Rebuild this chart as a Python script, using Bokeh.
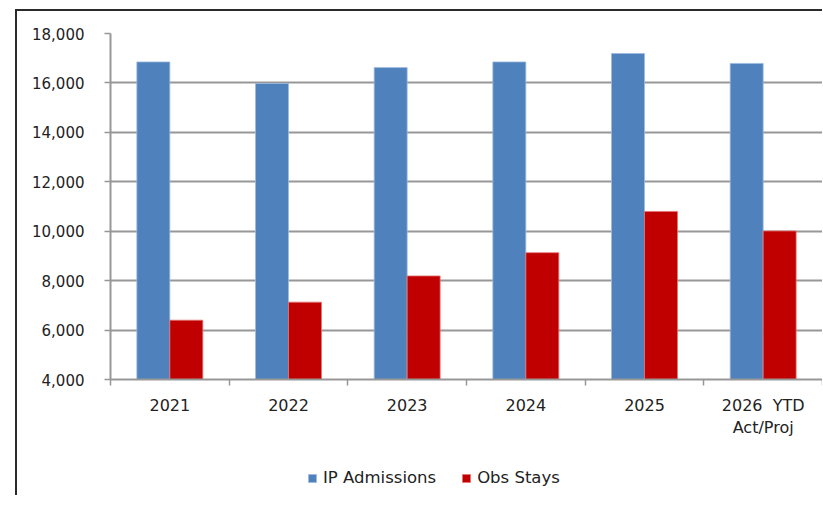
from bokeh.plotting import figure
from bokeh.layouts import column
from bokeh.models import (Range1d, FixedTicker, NumeralTickFormatter, Legend, LegendItem,
                          ColumnDataSource)
from bokeh.transform import dodge
from bokeh.embed import file_html
from bokeh.resources import INLINE

categories = ["2021", "2022", "2023", "2024", "2025", "2026 \u00a0YTD\nAct/Proj"]
ip_admissions = [16850, 15980, 16620, 16850, 17190, 16790]
obs_stays = [6400, 7130, 8190, 9130, 10800, 10010]
y_ticks = [4000, 6000, 8000, 10000, 12000, 14000, 16000, 18000]
series_names = ["IP Admissions", "Obs Stays"]

BLUE = "#4F81BD"
RED = "#C00000"
GRID = "#979797"
TEXT = "#222222"
FONT = "DejaVu Sans"
BLUE_EDGE = "#9dbbe0"
RED_EDGE = "#e57373"

n = len(categories)
centers = [i + 0.5 for i in range(n)]
src = ColumnDataSource(dict(pos=centers, ip=ip_admissions, obs=obs_stays))

p = figure(x_range=Range1d(0, n), y_range=Range1d(y_ticks[0], y_ticks[-1]),
           width=805, height=440, output_backend="svg", toolbar_location=None,
           min_border_left=93, min_border_right=0, min_border_top=22, min_border_bottom=72)
p.outline_line_color = None

bw = 0.278
r1 = p.vbar(x=dodge("pos", -bw / 2), top="ip", bottom=y_ticks[0], width=bw,
            source=src, fill_color=BLUE, line_color=BLUE_EDGE, line_width=0.8)
r2 = p.vbar(x=dodge("pos", bw / 2), top="obs", bottom=y_ticks[0], width=bw,
            source=src, fill_color=RED, line_color=RED_EDGE, line_width=0.8)

# y axis
ya = p.yaxis[0]
ya.ticker = FixedTicker(ticks=y_ticks)
ya.formatter = NumeralTickFormatter(format="0,0")
ya.major_tick_out = 6
ya.major_tick_in = 0
ya.minor_tick_out = 0
ya.minor_tick_in = 0
ya.axis_line_color = GRID
ya.axis_line_width = 2
ya.major_tick_line_color = GRID
ya.major_tick_line_width = 1.5
ya.major_label_standoff = 20
ya.major_label_text_font = FONT
ya.major_label_text_font_size = "15px"
ya.major_label_text_color = TEXT

p.xgrid.visible = False
p.ygrid.ticker = FixedTicker(ticks=y_ticks)
p.ygrid.grid_line_color = GRID
p.ygrid.grid_line_width = 2

# x axis: labels at centres, ticks at category boundaries
xa = p.xaxis[0]
xa.ticker = FixedTicker(ticks=centers, minor_ticks=list(range(n + 1)))
xa.major_label_overrides = {c: lab for c, lab in zip(centers, categories)}
xa.major_tick_in = 0
xa.major_tick_out = 0
xa.minor_tick_in = 0
xa.minor_tick_out = 6
xa.minor_tick_line_color = GRID
xa.minor_tick_line_width = 1.5
xa.axis_line_color = GRID
xa.axis_line_width = 2
xa.major_label_standoff = 10
xa.major_label_text_font = FONT
xa.major_label_text_font_size = "16px"
xa.major_label_text_color = TEXT
xa.major_label_text_line_height = 1.2

# legend strip below the chart (key swatches only; their dummy points lie outside the view)
lg = figure(width=805, height=44, output_backend="svg", toolbar_location=None,
            x_range=Range1d(0, 1), y_range=Range1d(0, 1),
            x_axis_location=None, y_axis_location=None,
            min_border_left=0, min_border_right=0, min_border_top=0, min_border_bottom=0)
lg.outline_line_color = None
lg.grid.visible = False
k1 = lg.vbar(x=[5], top=[5], bottom=4, width=0.1, fill_color=BLUE, line_color=BLUE_EDGE, line_width=0.8)
k2 = lg.vbar(x=[6], top=[5], bottom=4, width=0.1, fill_color=RED, line_color=RED_EDGE, line_width=0.8)
legend = Legend(items=[LegendItem(label=series_names[0], renderers=[k1]),
                       LegendItem(label=series_names[1], renderers=[k2])],
                orientation="horizontal", location=(197, 8),
                glyph_width=10, glyph_height=10, label_standoff=6, spacing=25,
                padding=0, margin=0, border_line_color=None, background_fill_alpha=0,
                label_text_font=FONT, label_text_font_size="16.5px", label_text_color=TEXT)
lg.add_layout(legend)

layout = column(p, lg, spacing=0)
layout.styles = {"margin-left": "15px", "margin-top": "9px",
                 "border-left": "2px solid #2b2b2b", "border-top": "2px solid #2b2b2b"}

open("out.html", "w").write(file_html(layout, INLINE))
